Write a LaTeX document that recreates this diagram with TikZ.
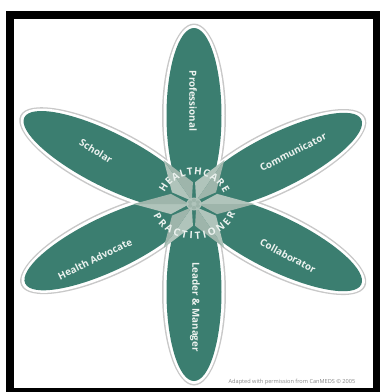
\documentclass[tikz,border=0pt]{standalone}
\usepackage{fontspec}
\setmainfont{Open Sans}
\usetikzlibrary{decorations.text}
\definecolor{petal}{RGB}{59,126,112}
\definecolor{starA}{RGB}{176,196,187}
\definecolor{starB}{RGB}{158,181,171}
\definecolor{rim}{RGB}{200,200,200}
\definecolor{labeltext}{RGB}{236,242,239}
\definecolor{notegrey}{RGB}{135,135,135}

\begin{document}
\begin{tikzpicture}[x=1pt,y=1pt,
  lbl/.style={text=labeltext, font=\fontsize{9.8}{9.8}\selectfont\bfseries, inner sep=0pt},
  arctext/.style={decorate, decoration={text along path, text align={fit to path},
      text color=labeltext, text={|\fontsize{10}{10}\selectfont\bfseries|#1}}}
]
\useasboundingbox (0,0) rectangle (380,-392);
\fill[white] (0,0) rectangle (380,-392);
% black frame
\fill[black] (6,-11) rectangle (380,-392);
\fill[white] (14,-19) rectangle (373,-388);

\coordinate (c) at (194,-203);
% petals: direction / length to tip / half width
\def\petals{90/178/27.5, 270/181/27.5, 153.2/193/27, 26.6/190/27, 205.5/190/27, -26/189/27}

% grey rims
\foreach \ang/\len/\wid in \petals {
  \pgfmathsetmacro\ra{(\len-3)/2}
  \begin{scope}[shift={(c)}, rotate=\ang]
    \fill[rim] (\ra,0) ellipse [x radius=\ra+4.5, y radius=\wid+4.5];
  \end{scope}
}
% white outlines
\foreach \ang/\len/\wid in \petals {
  \pgfmathsetmacro\ra{(\len-3)/2}
  \begin{scope}[shift={(c)}, rotate=\ang]
    \fill[white] (\ra,0) ellipse [x radius=\ra+3, y radius=\wid+3];
  \end{scope}
}
% green petals
\foreach \ang/\len/\wid in \petals {
  \pgfmathsetmacro\ra{(\len-3)/2}
  \begin{scope}[shift={(c)}, rotate=\ang]
    \fill[petal] (\ra,0) ellipse [x radius=\ra, y radius=\wid];
  \end{scope}
}

% central star: six kite-shaped points, each in two shades
\begin{scope}[shift={(194,-204)}, xscale=1.1, yscale=0.92]
  \foreach \k in {0,60,...,300} {
    \begin{scope}[rotate=\k]
      \fill[starA] (4,0) -- (21,11) -- (55,0) -- cycle;
      \fill[starB] (4,0) -- (21,-11) -- (55,0) -- cycle;
    \end{scope}
  }
  \fill[starA] (0,0) circle (7);
  \foreach \k in {30,90,...,330} \fill[starB] (\k:4) circle (2);
\end{scope}

% arched titles
\path[shift={(194,-204)}, arctext=HEALTHCARE] (157:32 and 29) arc [start angle=157, end angle=22, x radius=32, y radius=29];
\path[shift={(194,-204)}, arctext=PRACTITIONER] (199:43 and 35) arc [start angle=199, end angle=344, x radius=43, y radius=35];

% petal labels
\node[lbl, rotate=-90] (prof) at (193,-101) {Professional};
\node[lbl, rotate=-90] (lead) at (195,-307) {Leader \& Manager};
\node[lbl, rotate=-31] (schol) at (96,-151) {Scholar};
\node[lbl, rotate=27] (comm) at (293,-152) {Communicator};
\node[lbl, rotate=-28] (coll) at (288,-256) {Collaborator};
\node[lbl, rotate=26] (hadv) at (95,-259) {Health Advocate};

\node[font=\fontsize{5.6}{5.6}\selectfont, text=notegrey, inner sep=0pt] (note) at (292,-382) {Adapted with permission from CanMEDS © 2005};
\end{tikzpicture}
\end{document}
